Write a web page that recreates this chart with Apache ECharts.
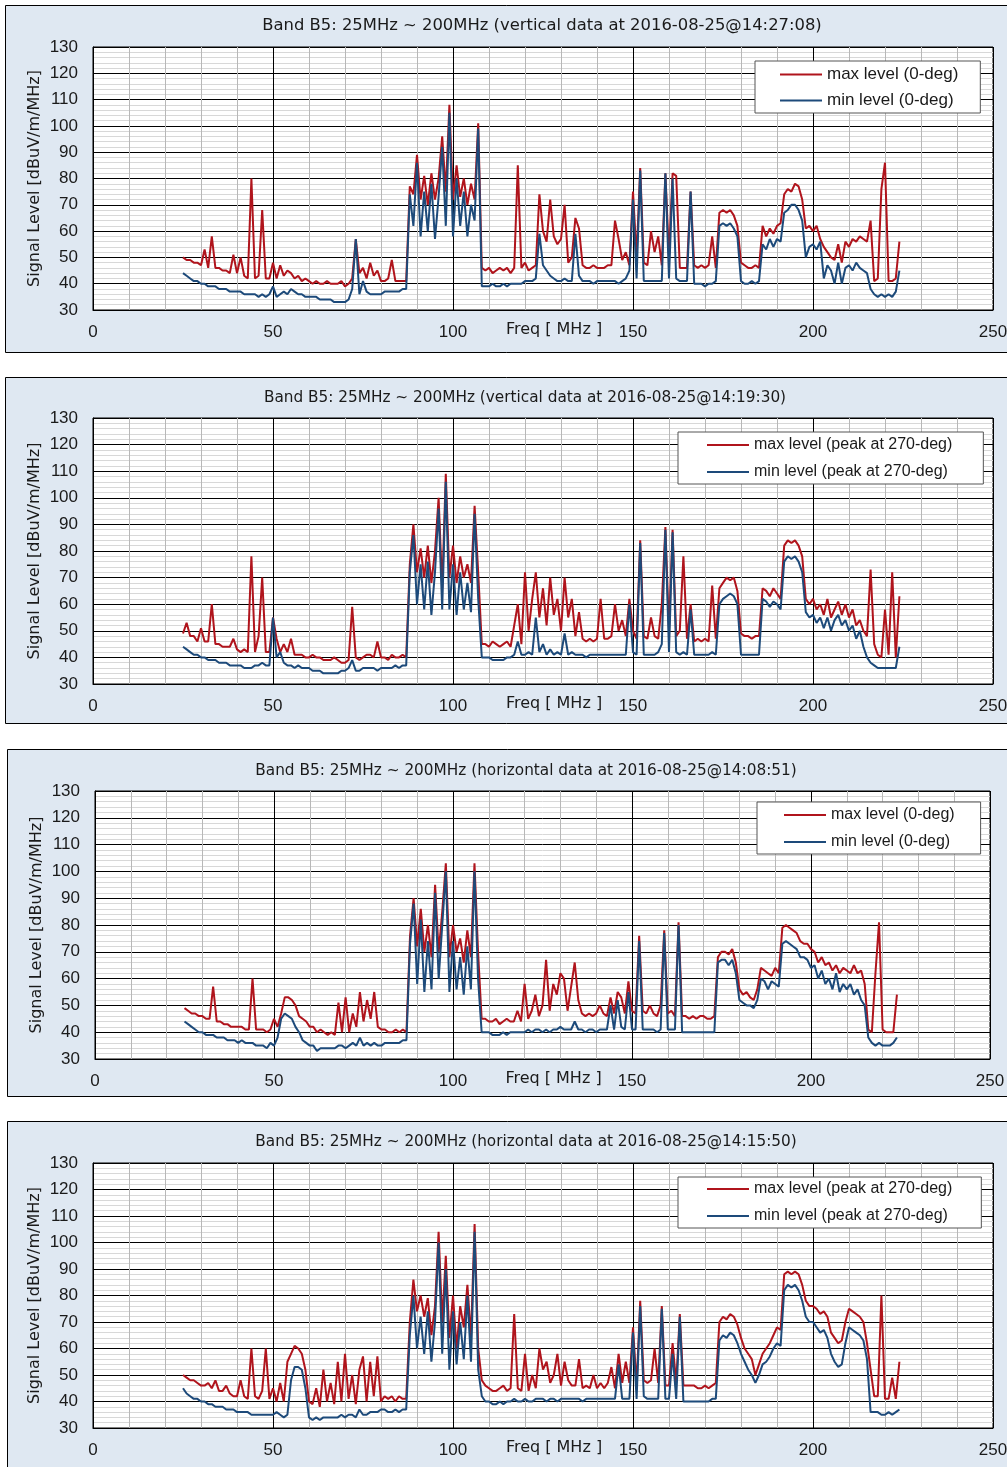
<!DOCTYPE html>
<html><head><meta charset="utf-8">
<script src="https://cdn.jsdelivr.net/npm/echarts@6/dist/echarts.min.js"></script>
<style>html,body{margin:0;padding:0;background:#fff}#c{width:1007px;height:1467px}</style>
</head><body><div id="c"></div>
<script>
// Frequencies (MHz)
const freq = [25,26,27,28,29,30,31,32,33,34,35,36,37,38,39,40,41,42,43,44,45,46,47,48,49,50,51,52,53,54,55,56,57,58,59,60,61,62,63,64,65,66,67,68,69,70,71,72,73,74,75,76,77,78,79,80,81,82,83,84,85,86,87,88,89,90,91,92,93,94,95,96,97,98,99,100,101,102,103,104,105,106,107,108,109,110,111,112,113,114,115,116,117,118,119,120,121,122,123,124,125,126,127,128,129,130,131,132,133,134,135,136,137,138,139,140,141,142,143,144,145,146,147,148,149,150,151,152,153,154,155,156,157,158,159,160,161,162,163,164,165,166,167,168,169,170,171,172,173,174,175,176,177,178,179,180,181,182,183,184,185,186,187,188,189,190,191,192,193,194,195,196,197,198,199,200,201,202,203,204,205,206,207,208,209,210,211,212,213,214,215,216,217,218,219,220,221,222,223,224];

// Panel 1: vertical 14:27:08
const p1Max = [50,49,49,48,48,47,53,46,58,46, 46,45,45,44,51,44,50,43,42,80, 42,43,68,42,42,48,42,47,43,45, 44,42,43,41,42,41,40,41,40,40, 41,40,40,40,41,39,40,42,57,44, 46,42,48,43,45,41,41,42,49,41, 41,41,41,77,74,89,72,81,70,82, 72,80,96,75,108,72,85,73,80,70, 78,72,101,46,45,46,44,45,46,45, 46,44,46,85,46,48,45,46,47,74, 60,56,72,58,55,57,70,48,50,65, 61,47,46,46,47,46,46,46,47,47, 64,57,49,52,47,75,50,84,48,47, 60,52,58,47,82,50,82,81,46,46, 46,75,47,46,47,46,47,58,46,67, 68,67,68,66,62,48,47,46,46,47, 46,62,58,61,59,62,63,74,76,75, 78,77,72,61,62,60,62,57,54,52, 50,49,55,48,56,54,57,56,58,57, 56,64,41,42,76,86,41,41,42,56];
const p1Min = [44,43,42,41,41,40,40,39,39,39, 38,38,38,37,37,37,37,36,36,36, 36,35,36,35,36,39,35,36,37,36, 38,37,36,36,35,35,35,35,34,34, 34,34,33,33,33,33,34,38,57,36, 41,37,36,36,36,36,37,37,37,37, 37,38,38,74,62,86,58,75,60,78, 57,73,92,62,105,58,80,62,75,58, 70,64,99,39,39,39,40,39,39,40, 39,40,40,40,40,41,41,41,42,59, 47,45,43,42,41,41,42,41,41,59, 43,41,41,41,40,41,41,41,41,41, 41,40,41,42,45,72,42,83,41,41, 41,41,41,41,82,42,80,42,41,41, 41,75,40,40,40,39,40,40,41,62, 63,62,63,61,58,41,40,40,41,40, 41,55,53,57,54,57,56,67,68,70, 70,68,64,50,54,55,53,56,42,47, 45,40,48,40,46,47,45,48,46,45, 44,38,36,35,36,35,36,35,37,45];

// Panel 2: vertical 14:19:30
const p2Max = [49,53,48,48,46,51,46,46,60,45, 45,44,44,44,47,43,42,43,42,78, 42,48,70,42,42,55,47,42,45,42, 47,41,41,41,40,40,41,40,40,39, 39,39,40,39,38,38,39,59,40,39, 40,41,41,40,46,40,40,39,41,40, 40,41,40,75,90,72,81,70,82,68, 80,100,66,109,70,82,68,78,70,75, 68,97,72,45,45,44,46,45,44,45, 46,44,52,60,45,72,50,62,72,55, 66,52,70,56,62,50,70,55,62,48, 57,47,46,47,46,47,62,47,47,48, 60,50,54,48,62,50,47,84,48,47, 55,48,47,60,89,50,88,48,50,78, 47,60,46,47,46,47,46,67,47,66, 68,70,69,70,65,49,48,48,47,48, 48,66,65,63,66,64,62,82,84,83, 84,82,78,62,60,62,58,60,56,62, 55,58,61,56,60,55,58,52,54,50, 48,73,45,41,40,58,41,72,40,63];
const p2Min = [44,43,42,41,41,40,40,39,39,39, 38,38,38,37,37,37,37,36,36,36, 37,37,38,37,37,55,40,42,38,37, 37,36,37,36,36,36,35,35,35,34, 34,34,34,34,35,35,36,39,35,35, 36,36,36,36,35,36,36,36,36,37, 36,37,37,72,86,60,75,58,76,56, 72,96,58,106,58,75,56,72,58,68, 57,94,62,40,40,40,39,39,39,39, 40,40,41,46,41,41,42,41,55,42, 45,41,43,41,42,41,49,41,42,41, 41,41,40,41,41,41,41,41,41,41, 41,41,41,41,60,42,41,83,41,41, 41,41,42,45,88,42,87,42,41,42, 41,58,41,41,41,41,41,42,41,60, 62,63,64,63,60,41,41,41,41,41, 41,62,61,59,61,60,58,76,78,77, 78,76,72,57,55,56,53,55,51,55, 50,54,56,52,54,50,52,47,50,44, 40,38,37,36,36,36,36,36,36,44];

// Panel 3: horizontal 14:08:51
const p3Max = [49,48,47,47,46,46,45,45,57,44, 44,43,43,42,42,42,42,41,41,60, 41,41,41,40,41,45,42,47,53,53, 52,50,46,45,44,42,42,40,41,40, 39,40,39,51,40,53,40,47,42,55, 44,52,45,55,42,41,41,40,40,41, 40,41,40,76,90,72,86,70,80,68, 95,70,85,103,68,80,70,75,66,78, 68,103,70,45,45,44,44,45,43,44, 45,44,44,48,44,58,45,48,54,46, 50,67,48,58,54,62,60,48,57,66, 52,47,46,47,46,47,50,47,46,53, 47,55,53,47,59,48,47,76,48,47, 50,47,46,50,78,47,48,46,81,46, 46,45,46,45,46,46,45,45,46,68, 70,70,69,71,66,56,54,55,53,52, 56,64,63,62,61,64,62,79,80,79, 78,77,74,73,73,71,70,66,68,65, 66,63,65,62,64,63,62,65,62,63, 58,41,40,62,81,41,40,40,40,54];
const p3Min = [44,43,42,41,40,40,39,39,39,38, 38,38,37,37,37,36,37,36,36,36, 35,35,35,34,36,35,38,45,47,46, 45,42,40,37,36,35,35,33,34,34, 34,34,34,35,35,34,35,36,35,38, 35,36,35,36,35,35,36,36,36,36, 36,37,37,73,88,58,82,55,74,56, 92,60,80,100,55,74,56,68,54,72, 56,100,60,40,40,40,39,39,39,40, 39,40,40,40,40,40,41,40,41,41, 40,41,40,41,41,42,41,41,41,44, 41,41,40,41,41,40,41,41,41,50, 41,52,42,41,55,41,41,74,41,41, 41,41,40,41,77,41,41,41,80,40, 40,40,40,40,40,40,40,40,40,66, 67,67,65,67,62,52,51,50,50,49, 52,60,59,56,59,58,57,73,74,73, 72,71,68,68,67,64,65,60,63,58, 60,56,62,55,58,56,58,54,56,52, 50,38,36,35,36,35,35,35,36,38];

// Panel 4: horizontal 14:15:50
const p4Max = [50,49,48,48,47,46,46,47,45,48, 44,44,46,43,42,42,48,42,41,60, 42,41,44,60,41,45,40,47,40,55, 58,61,60,58,52,40,39,45,38,52, 40,47,39,55,40,58,41,50,39,52, 57,40,55,42,57,40,42,41,42,40, 42,41,41,70,86,74,80,72,79,65, 76,104,70,95,64,80,60,76,68,84, 64,107,60,48,46,45,44,44,45,46, 44,45,73,45,44,58,44,50,45,60, 52,55,47,50,58,46,55,48,46,46, 56,45,46,45,50,45,47,45,47,53, 45,58,47,55,47,68,46,78,48,47, 48,60,47,76,46,46,62,47,73,46, 46,46,46,45,45,46,45,46,47,70, 72,71,73,72,69,64,60,58,56,50, 54,58,60,62,65,68,67,88,89,88, 89,88,84,78,76,76,75,73,74,72, 66,64,62,63,70,75,74,73,72,70, 62,52,42,42,80,41,41,49,41,55];
const p4Min = [45,43,42,41,41,40,40,39,39,38, 38,38,37,37,37,36,36,36,36,35, 35,35,35,35,35,35,36,35,34,35, 48,53,53,52,45,34,33,34,33,34, 34,34,34,34,35,34,35,35,34,37, 35,35,36,36,36,37,37,36,36,37, 36,37,37,65,80,60,72,58,74,55, 70,100,58,90,52,74,54,70,56,80, 55,104,52,42,40,40,39,39,40,39, 40,40,41,40,40,41,40,40,41,41, 41,40,41,41,40,41,41,41,41,41, 41,40,41,41,41,41,41,41,41,41, 41,54,41,41,41,66,41,76,42,41, 41,41,41,75,41,41,58,41,72,40, 40,40,40,40,40,40,40,41,41,63, 65,64,66,65,62,58,55,52,50,47, 50,54,55,57,60,62,61,82,84,83, 84,82,78,72,70,70,68,66,67,64, 58,55,53,54,62,68,67,66,65,63, 56,36,36,36,35,35,36,35,36,37];

const titles = [
  'Band B5: 25MHz ~ 200MHz (vertical data at 2016-08-25@14:27:08)',
  'Band B5: 25MHz ~ 200MHz (vertical data at 2016-08-25@14:19:30)',
  'Band B5: 25MHz ~ 200MHz (horizontal data at 2016-08-25@14:08:51)',
  'Band B5: 25MHz ~ 200MHz (horizontal data at 2016-08-25@14:15:50)'
];
const maxNames = ['max level (0-deg)', 'max level (peak at 270-deg)', 'max level (0-deg)', 'max level (peak at 270-deg)'];
const minNames = ['min level (0-deg)', 'min level (peak at 270-deg)', 'min level (0-deg)', 'min level (peak at 270-deg)'];
const xAxisName = 'Freq [ MHz ]';
const yAxisName = 'Signal Level [dBuV/m/MHz]';

const maxSeries = [p1Max, p2Max, p3Max, p4Max];
const minSeries = [p1Min, p2Min, p3Min, p4Min];

// Layout
const RED = '#b0141c', BLUE = '#1d4a7a', PANEL_BG = '#dfe8f2';
const layout = [
  {box:[5,5,1030,347],   grid:{left:93,top:47,width:900,height:263},  title:{x:542,y:18,size:16.4}, legend:{left:755,top:61,pad:[5,22,4,25],fs:17,gap:9}},
  {box:[5,377,1030,346], grid:{left:93,top:418,width:900,height:266}, title:{x:525,y:391,size:15.3}, legend:{left:678,top:432,pad:[5,31,4,29],fs:16,gap:11}},
  {box:[7,749,1030,347], grid:{left:95,top:791,width:895,height:268}, title:{x:526,y:764,size:15.3}, legend:{left:757,top:802,pad:[5,26,4,27],fs:16,gap:11}},
  {box:[7,1121,1030,400],grid:{left:93,top:1163,width:900,height:265},title:{x:526,y:1135,size:15.3}, legend:{left:678,top:1177,pad:[4,29,4,29],fs:16,gap:11}}
];

const chart = echarts.init(document.getElementById('c'), null, {renderer:'canvas'});
const option = {
  animation:false,
  backgroundColor:'#ffffff',
  graphic: layout.map(l => ({type:'rect', z:-10, shape:{x:l.box[0]+0.5,y:l.box[1]+0.5,width:l.box[2],height:l.box[3]},
    style:{fill:PANEL_BG, stroke:'#000', lineWidth:1}})),
  title: layout.map((l,i) => ({text:titles[i], left:l.title.x, top:l.title.y, textAlign:'center', padding:0,
    textStyle:{fontFamily:'DejaVu Sans', fontSize:l.title.size, fontWeight:'normal', color:'#1a1a1a'}})),
  legend: layout.map((l,i) => ({orient:'vertical', left:l.legend.left, top:l.legend.top, padding:l.legend.pad,
    itemGap:l.legend.gap, itemWidth:42, itemHeight:2, icon:'rect', selectedMode:false,
    backgroundColor:'#ffffff', borderColor:'#555', borderWidth:1,
    textStyle:{fontFamily:'Liberation Sans', fontSize:l.legend.fs, color:'#1a1a1a'},
    data:[{name:maxNames[i], itemStyle:{color:RED}}, {name:minNames[i], itemStyle:{color:BLUE}}]})),
  grid: layout.map(l => Object.assign({show:true, backgroundColor:'#ffffff', borderColor:'#000', borderWidth:1,
    containLabel:false, outerBoundsMode:'none'}, l.grid)),
  xAxis: layout.map((l,i) => ({gridIndex:i, type:'value', min:0, max:250, interval:50,
    axisLine:{show:true, onZero:false, lineStyle:{color:'#000', width:1}}, axisTick:{show:false},
    axisLabel:{margin:14, fontFamily:'Liberation Sans', fontSize:17, color:'#1a1a1a'},
    splitLine:{show:true, lineStyle:{color:'#000', width:1}},
    minorTick:{show:false, splitNumber:5},
    minorSplitLine:{show:true, lineStyle:{color:'#b8b8b8', width:1}},
    name:xAxisName, nameLocation:'middle', nameGap:12, nameMoveOverlap:false,
    nameTextStyle:{fontFamily:'DejaVu Sans', fontSize:16, color:'#1a1a1a', padding:[0,0,0,22]}})),
  yAxis: layout.map((l,i) => ({gridIndex:i, type:'value', min:30, max:130, interval:10,
    axisLine:{show:true, lineStyle:{color:'#000', width:1}}, axisTick:{show:false},
    axisLabel:{margin:15, fontFamily:'Liberation Sans', fontSize:17, color:'#1a1a1a'},
    splitLine:{show:true, lineStyle:{color:'#000', width:1}},
    minorTick:{show:false, splitNumber:5},
    minorSplitLine:{show:true, lineStyle:{color:'#d8d8d8', width:1}},
    name:yAxisName, nameLocation:'middle', nameGap:50, nameMoveOverlap:false,
    nameTextStyle:{fontFamily:'DejaVu Sans', fontSize:16, color:'#1a1a1a'}})),
  series: []
};
for (let i = 0; i < 4; i++) {
  option.series.push({type:'line', name:maxNames[i], xAxisIndex:i, yAxisIndex:i, symbol:'none', z:3,
    data: freq.map((f,k) => [f, maxSeries[i][k]]),
    lineStyle:{color:RED, width:2}, itemStyle:{color:RED}});
  option.series.push({type:'line', name:minNames[i], xAxisIndex:i, yAxisIndex:i, symbol:'none', z:4,
    data: freq.map((f,k) => [f, minSeries[i][k]]),
    lineStyle:{color:BLUE, width:2}, itemStyle:{color:BLUE}});
}
chart.setOption(option);
</script>
</body></html>
